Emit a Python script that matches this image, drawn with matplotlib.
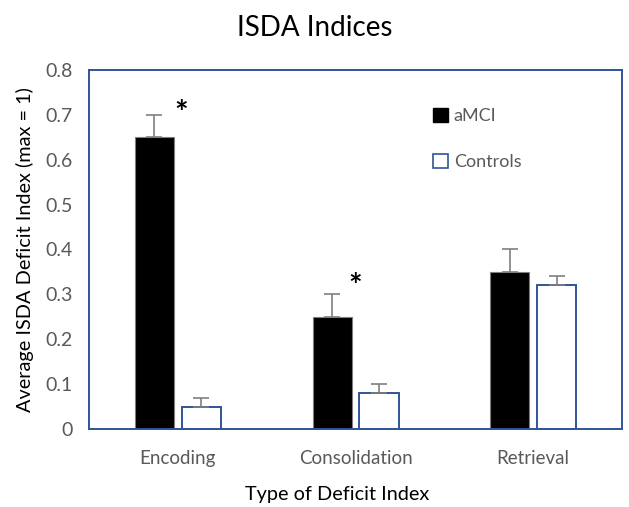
import numpy as np
import matplotlib.pyplot as plt
from matplotlib.patches import Patch

plt.rcParams['font.family'] = ['Lato', 'DejaVu Sans']

categories = ['Encoding', 'Consolidation', 'Retrieval']
amci = [0.65, 0.25, 0.35]
amci_err = [0.05, 0.05, 0.05]
controls = [0.05, 0.08, 0.32]
controls_err = [0.02, 0.02, 0.02]
# significance stars (category position, height)
stars = [(0.02, 0.70), (1.0, 0.315)]

blue = '#2F5597'
grey = '#595959'

fig = plt.figure(figsize=(6.29, 5.07), dpi=100)
ax = fig.add_axes([0.1415, 0.1538, 0.8475, 0.7082])

x = np.arange(len(categories))
w = 0.22
off = 0.132
ax.bar(x - off, amci, w, color='black', edgecolor='#7f7f7f', linewidth=0.8,
       yerr=[[0]*3, amci_err], error_kw=dict(ecolor='#7f7f7f', capsize=5.5, elinewidth=1.2, capthick=1.2))
ax.bar(x + off, controls, w, color='white', edgecolor=blue, linewidth=1.4,
       yerr=[[0]*3, controls_err], error_kw=dict(ecolor='#7f7f7f', capsize=5.5, elinewidth=1.2, capthick=1.2))

for sx, sy in stars:
    ax.text(sx, sy, '*', fontsize=23, fontweight='bold', ha='center', va='center')

ax.set_xlim(-0.5, 2.5)
ax.set_ylim(0, 0.8)
ax.set_yticks(np.arange(0, 0.81, 0.1))
ax.set_yticklabels(['0'] + ['%.1f' % v for v in np.arange(0.1, 0.81, 0.1)])
ax.set_xticks(x)
ax.set_xticklabels(categories)
ax.tick_params(length=0, labelcolor=grey)
ax.tick_params(axis='x', pad=15, labelsize=13.5)
ax.tick_params(axis='y', pad=12, labelsize=14)
for s in ax.spines.values():
    s.set_color(blue)
    s.set_linewidth(1.4)

ax.set_ylabel('Average ISDA Deficit Index (max = 1)', fontsize=14.3, va='center')
ax.yaxis.set_label_coords(-0.12, 0.5)
ax.set_xlabel('Type of Deficit Index', fontsize=14.3, va='center')
ax.xaxis.set_label_coords(0.466, -0.181)
fig.suptitle('ISDA Indices', fontsize=20, y=0.97)

handles = [Patch(facecolor='black', edgecolor='black'),
           Patch(facecolor='white', edgecolor=blue, linewidth=1.2)]
ax.legend(handles, ['aMCI', 'Controls'], loc='upper left', bbox_to_anchor=(0.615, 0.94),
          frameon=False, fontsize=13, labelcolor=grey, labelspacing=1.65,
          handlelength=0.8, handleheight=0.8, handletextpad=0.35)

fig.savefig('out.png', dpi=100)
